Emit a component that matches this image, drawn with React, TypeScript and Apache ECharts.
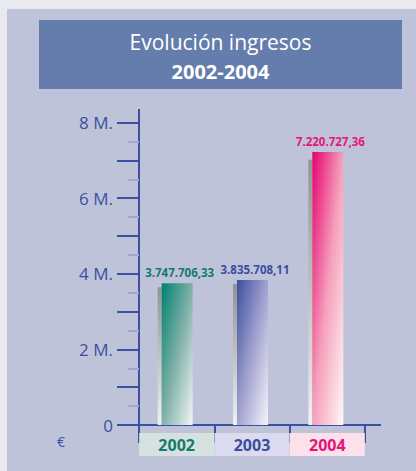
import React, { useEffect, useRef } from "react";
import * as echarts from "echarts";

const categories = ["2002", "2003", "2004"];
const values = [3747706.33, 3835708.11, 7220727.36];
const yTickLabels: Record<number, string> = { 0: "0", 2: "2 M.", 4: "4 M.", 6: "6 M.", 8: "8 M." };
const titleLine1 = "Evolución ingresos";
const titleLine2 = "2002-2004";

const labelColors = ["#147a6c", "#3a4f9e", "#e4157a"];
const boxColors = ["#d5e2e0", "#dcdaee", "#fce0ea"];
const gradStops = [
  ["#00806f", "#7fb0a8", "#f3f6f4"],
  ["#3b4f9f", "#a2a2cf", "#f6f5fb"],
  ["#e6006f", "#f5a0bb", "#fff8f8"],
];

const AXIS = "#3a50a0";
const FONT = "'Open Sans', 'Noto Sans', sans-serif";

function fmtES(v: number): string {
  const [i, d] = v.toFixed(2).split(".");
  return i.replace(/\B(?=(\d{3})+(?!\d))/g, ".") + "," + d;
}

export default function App() {
  const ref = useRef<HTMLDivElement>(null);
  useEffect(() => {
    if (!ref.current) return;
    const chart = echarts.init(ref.current, undefined, { renderer: "svg" });
    const rich: Record<string, any> = {};
    categories.forEach((c, i) => {
      rich["c" + i] = {
        width: 75,
        height: 23,
        lineHeight: 23,
        align: "center",
        backgroundColor: boxColors[i],
        color: labelColors[i],
        fontWeight: "bold",
        fontSize: 16,
        fontFamily: FONT,
      };
    });
    const option: any = {
      animation: false,
      backgroundColor: "#e9eaef",
      grid: { left: 139, right: 51, top: 122.6, bottom: 46, containLabel: false },
      graphic: [
        { type: "rect", z: -10, shape: { x: 7, y: 9, width: 409, height: 462 }, style: { fill: "#bec3da" } },
        { type: "rect", z: -9, shape: { x: 39, y: 20, width: 363, height: 69 }, style: { fill: "#657dac" } },
        {
          type: "text", x: 220.5, y: 42,
          style: { text: titleLine1, fill: "#ffffff", font: `21px ${FONT}`, textAlign: "center", textVerticalAlign: "middle" },
        },
        {
          type: "text", x: 220.5, y: 71,
          style: { text: titleLine2, fill: "#ffffff", font: `bold 20px ${FONT}`, textAlign: "center", textVerticalAlign: "middle" },
        },
        {
          type: "text", x: 61, y: 441,
          style: { text: "€", fill: AXIS, font: `14px ${FONT}`, textAlign: "center", textVerticalAlign: "middle" },
        },
        { type: "line", shape: { x1: 139, y1: 109, x2: 139, y2: 123 }, style: { stroke: AXIS, lineWidth: 2 } },
        { type: "line", shape: { x1: 139, y1: 425, x2: 139, y2: 443 }, style: { stroke: AXIS, lineWidth: 2 } },
        { type: "line", shape: { x1: 364, y1: 425, x2: 381, y2: 425 }, style: { stroke: AXIS, lineWidth: 2 } },
      ],
      xAxis: {
        type: "category",
        data: categories,
        boundaryGap: true,
        axisLine: { show: true, lineStyle: { color: AXIS, width: 2 } },
        axisTick: { show: true, length: 18, alignWithLabel: false, lineStyle: { color: AXIS, width: 2 } },
        axisLabel: {
          interval: 0,
          margin: 8,
          formatter: (v: string) => `{c${categories.indexOf(v)}|${v}}`,
          rich,
        },
        splitLine: { show: false },
      },
      yAxis: {
        type: "value",
        min: 0,
        max: 8000000,
        interval: 1000000,
        axisLine: { show: true, lineStyle: { color: AXIS, width: 2 } },
        axisTick: { show: true, length: 22, lineStyle: { color: AXIS, width: 2 } },
        minorTick: { show: true, splitNumber: 2, length: 11, lineStyle: { color: "#a1a4d5", width: 2 } },
        axisLabel: {
          margin: 26,
          color: AXIS,
          fontSize: 17,
          fontFamily: FONT,
          formatter: (v: number) => yTickLabels[Math.round(v / 1000000)] ?? "",
        },
        splitLine: { show: false },
        minorSplitLine: { show: false },
      },
      series: [
        {
          type: "custom",
          data: values.map((v, i) => [i, v]),
          encode: { x: 0, y: 1 },
          renderItem: (params: any, api: any) => {
            const idx = api.value(0);
            const top = api.coord([idx, api.value(1)]);
            const base = api.coord([idx, 0]);
            const cx = top[0];
            const bw = 31;
            const left = cx - 15;
            const h = base[1] - top[1];
            const shOff = h * 0.028;
            const g = gradStops[idx];
            return {
              type: "group",
              children: [
                {
                  type: "rect",
                  shape: { x: left - 4, y: top[1] + shOff, width: 4, height: h - shOff },
                  style: {
                    fill: new echarts.graphic.LinearGradient(0, 0, 0, 1, [
                      { offset: 0, color: "#939393" },
                      { offset: 1, color: "#f0f0f0" },
                    ]),
                  },
                },
                {
                  type: "rect",
                  shape: { x: left, y: top[1], width: bw, height: h },
                  style: {
                    fill: new echarts.graphic.LinearGradient(0, 0, 1, 1, [
                      { offset: 0, color: g[0] },
                      { offset: 0.5, color: g[1] },
                      { offset: 1, color: g[2] },
                    ]),
                  },
                },
                {
                  type: "text",
                  x: cx + 3,
                  y: top[1] - 11,
                  style: {
                    text: fmtES(api.value(1)),
                    fill: labelColors[idx],
                    font: `bold 11.5px ${FONT}`,
                    textAlign: "center",
                    textVerticalAlign: "middle",
                  },
                },
              ],
            };
          },
        },
      ],
    };
    chart.setOption(option);
    return () => chart.dispose();
  }, []);
  return (
    <div
      ref={ref}
      style={{ position: "fixed", left: 0, top: 0, width: 416, height: 471 }}
    />
  );
}
